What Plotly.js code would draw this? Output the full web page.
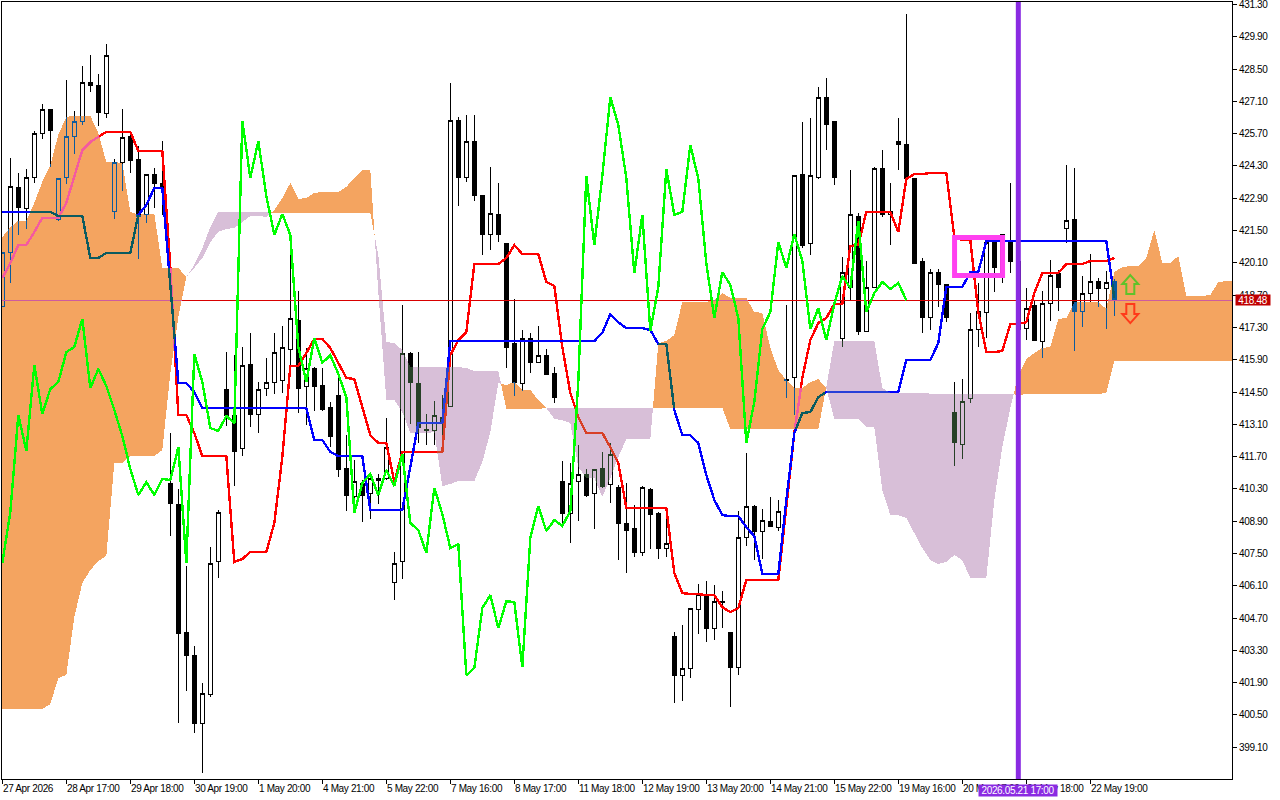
<!DOCTYPE html>
<html>
<head>
<meta charset="utf-8">
<script src="https://cdn.plot.ly/plotly-3.0.1.min.js"></script>
<style>
html,body{margin:0;padding:0;background:#fff;overflow:hidden}
#chart{width:1280px;height:800px}
.scatterlayer path,.boxlayer path{shape-rendering:crispEdges !important}
.annotation-text,.ytick text{letter-spacing:-0.35px}
</style>
</head>
<body>
<div id="chart"></div>
<script>
// Candles, index 0..139
const open = [
418.19,420.57,423.35,422.44,423.82,425.73,426.73,421.96,423.78,425.56,
426.21,427.90,427.81,426.56,422.31,424.43,425.56,424.56,422.18,423.95,
423.56,410.55,409.64,404.09,403.09,400.14,401.40,407.13,414.63,413.50,
412.03,415.71,413.54,414.67,414.93,415.02,416.36,417.62,414.72,415.54,
414.80,413.81,414.33,411.20,409.99,410.55,410.12,410.73,410.73,406.26,
407.17,416.19,414.89,412.89,412.85,413.41,413.85,426.26,423.78,425.34,
423.04,421.31,422.18,420.92,416.62,414.89,416.80,415.76,416.10,415.32,
410.60,409.25,410.60,410.94,410.12,411.20,410.47,410.38,408.82,408.56,
407.52,410.29,409.25,407.73,403.92,402.22,402.53,405.09,405.70,404.26,
405.43,404.09,402.57,408.17,409.55,408.43,408.90,408.64,415.06,415.15,
423.91,420.96,423.82,427.25,426.21,416.80,419.05,422.13,417.14,419.05,
424.17,422.18,425.38,425.25,423.74,420.14,417.75,419.70,419.14,413.59,
412.24,414.20,417.19,417.93,421.00,419.62,421.09,420.18,417.27,418.23,
416.71,418.32,419.62,421.57,422.00,417.97,418.79,419.27,418.97,419.27];
const high = [
420.57,424.65,424.00,424.17,425.82,426.99,426.73,423.74,428.03,426.69,
428.64,429.11,428.29,429.59,424.60,426.77,425.73,425.17,423.95,424.21,
425.38,412.72,410.29,406.95,403.48,401.88,407.78,409.38,416.23,416.10,
416.45,417.06,414.93,415.97,417.06,417.36,420.70,418.88,416.41,415.58,
415.54,414.07,415.15,412.63,411.55,410.68,410.90,410.94,413.37,407.56,
418.27,416.23,416.23,413.54,414.11,414.37,427.90,426.43,426.51,426.51,
423.04,424.26,423.56,420.92,418.53,417.19,417.06,417.36,416.36,415.58,
411.51,411.42,412.20,411.16,411.16,411.90,412.29,410.47,410.55,409.60,
410.42,410.34,409.29,408.99,404.09,404.39,405.13,406.17,406.30,406.13,
405.87,404.09,409.34,411.85,409.60,409.42,409.95,409.82,418.27,423.87,
426.21,426.38,427.73,428.12,426.21,420.35,424.13,422.26,420.18,424.26,
425.00,423.56,426.38,430.89,423.74,420.31,419.83,419.83,419.18,414.93,
415.06,417.93,419.23,421.00,421.09,421.35,423.56,420.87,419.01,418.49,
418.88,420.22,419.79,424.34,424.21,419.53,420.48,419.44,419.75,419.40];
const low = [
418.19,419.23,421.31,421.57,423.56,425.47,424.26,421.92,423.52,424.82,
426.08,427.51,426.04,426.38,422.00,423.22,424.00,420.27,421.83,422.48,
422.18,408.25,400.14,401.53,399.71,397.97,401.27,406.43,413.02,410.42,
411.72,412.98,412.72,414.33,414.41,414.46,415.15,413.59,413.07,413.67,
413.67,412.11,410.81,409.34,409.82,408.86,408.99,409.64,410.68,405.48,
406.39,413.11,412.29,412.20,412.20,412.63,413.85,422.57,423.61,422.78,
420.44,420.66,421.00,415.54,414.33,414.54,415.32,415.76,415.28,414.02,
408.73,407.95,408.90,409.95,408.56,410.34,409.68,407.21,406.65,407.34,
407.39,407.69,407.26,407.34,401.01,401.10,402.09,404.00,403.66,403.74,
404.26,400.84,402.22,407.82,407.21,407.26,408.64,408.47,414.24,413.50,
420.74,420.44,423.74,425.00,423.48,416.45,418.49,416.97,417.14,419.05,
422.09,420.87,424.13,423.74,420.05,417.06,417.19,418.19,417.53,411.29,
411.59,414.02,416.45,416.84,418.84,419.23,419.66,416.90,416.75,416.71,
415.97,417.58,418.01,420.96,416.28,417.32,418.40,418.19,417.23,417.80];
const close = [
420.57,423.39,422.48,423.82,425.69,426.77,425.82,423.74,425.56,426.25,
427.90,427.77,426.64,429.11,424.47,425.52,424.52,422.09,423.95,423.52,
423.35,409.68,404.05,403.09,400.14,401.44,407.08,409.29,413.50,411.94,
415.67,413.54,414.63,414.93,416.23,416.45,417.67,414.67,415.50,414.76,
413.72,412.59,411.16,410.03,410.60,410.03,410.73,410.68,412.11,407.08,
416.15,414.93,412.94,412.81,413.46,413.15,426.26,423.78,425.38,423.00,
421.31,422.22,421.31,416.45,414.93,416.84,415.76,416.10,415.28,414.28,
409.25,410.55,410.94,410.03,411.12,410.42,411.81,408.82,408.51,407.52,
410.34,409.21,407.73,407.91,402.22,402.53,405.13,405.70,404.26,405.43,
405.39,402.57,408.17,409.55,408.47,408.95,408.69,409.34,414.98,423.87,
420.87,423.87,427.29,426.08,423.78,419.66,422.18,417.14,419.05,424.17,
422.18,422.31,425.21,423.74,420.09,417.71,419.70,419.14,417.71,412.29,
414.07,417.23,417.97,421.00,419.88,421.35,420.18,417.23,418.14,416.75,
418.32,419.53,419.01,421.92,417.97,418.79,419.27,418.97,419.23,418.48];

// Ichimoku lines
const tenkan = [
419.44,420.09,420.87,420.87,421.44,422.05,422.05,422.05,422.70,423.82,
424.99,425.34,425.56,425.78,425.78,425.78,425.78,424.95,424.95,424.95,
424.95,419.92,413.50,413.50,412.72,411.72,411.72,411.72,411.72,407.13,
407.26,407.56,407.56,407.56,408.82,411.68,415.63,415.63,416.19,416.80,
416.80,416.41,415.76,415.11,415.06,413.85,412.63,412.29,412.29,410.60,
411.90,411.90,411.90,411.90,411.90,411.90,416.10,416.75,417.10,420.05,
420.05,420.05,420.05,420.31,420.87,420.48,420.48,420.48,419.27,419.10,
416.45,414.46,413.41,412.72,412.72,412.72,412.11,411.42,409.47,409.47,
409.47,409.47,409.47,409.47,406.65,405.78,405.74,405.74,405.69,405.69,
405.17,404.96,405.13,406.35,406.35,406.35,406.35,406.35,409.51,412.72,
415.11,416.75,417.49,417.71,418.32,418.32,420.83,420.87,422.31,422.31,
422.31,422.31,421.44,423.74,423.95,423.95,424.00,424.00,424.00,421.22,
421.09,421.09,417.97,416.23,416.23,416.28,417.45,417.45,417.53,418.79,
419.66,419.66,419.66,420.05,420.05,420.05,420.18,420.18,420.18,420.31];
const kijun = [
422.31,422.31,422.31,422.31,422.31,422.31,422.31,422.13,422.13,422.13,
422.13,420.31,420.31,420.53,420.53,420.53,420.53,422.18,422.61,423.35,
423.35,419.14,414.89,414.89,414.50,413.81,413.81,413.81,413.81,413.81,
413.81,413.81,413.81,413.81,413.81,413.81,413.81,413.81,413.81,412.42,
412.42,411.90,411.72,411.72,411.72,411.72,409.38,409.38,409.38,409.38,
409.38,411.25,413.15,413.15,413.15,413.15,416.71,416.71,416.71,416.71,
416.71,416.71,416.71,416.71,416.71,416.71,416.71,416.71,416.71,416.71,
416.71,416.71,416.71,416.71,416.71,417.06,417.88,417.53,417.27,417.27,
417.27,417.19,416.58,416.58,413.72,412.63,412.63,412.29,410.90,409.82,
409.16,409.12,409.12,408.64,408.25,406.61,406.61,406.61,409.82,412.72,
413.59,413.63,414.28,414.50,414.50,414.50,414.50,414.50,414.50,414.50,
414.50,414.50,414.50,415.89,415.89,415.89,415.89,416.62,419.05,419.05,
419.05,419.70,419.70,421.05,421.05,421.05,421.05,421.05,421.05,421.05,
421.05,421.05,421.05,421.05,421.05,421.05,421.05,421.05,421.05,418.58];
const chikou = [
407.08,409.29,413.50,411.94,415.67,413.54,414.63,414.93,416.23,416.45,
417.67,414.67,415.50,414.76,413.72,412.59,411.16,410.03,410.60,410.03,
410.73,410.68,412.11,407.08,416.15,414.93,412.94,412.81,413.46,413.15,
426.26,423.78,425.38,423.00,421.31,422.22,421.31,416.45,414.93,416.84,
415.76,416.10,415.28,414.28,409.25,410.55,410.94,410.03,411.12,410.42,
411.81,408.82,408.51,407.52,410.34,409.21,407.73,407.91,402.22,402.53,
405.13,405.70,404.26,405.43,405.39,402.57,408.17,409.55,408.47,408.95,
408.69,409.34,414.98,423.87,420.87,423.87,427.29,426.08,423.78,419.66,
422.18,417.14,419.05,424.17,422.18,422.31,425.21,423.74,420.09,417.71,
419.70,419.14,417.71,412.29,414.07,417.23,417.97,421.00,419.88,421.35,
420.18,417.23,418.14,416.75,418.32,419.53,419.01,421.92,417.97,418.79,
419.27,418.97,419.23,418.48];
const spanA = [
421.22,421.65,421.92,421.92,422.70,423.61,424.34,425.65,426.43,426.47,
426.47,426.47,425.73,424.47,424.47,424.43,422.31,422.18,422.22,422.22,
419.88,419.88,419.88,419.49,
419.88,420.31,421.00,421.44,421.57,421.61,421.87,422.13,422.13,422.09,
422.39,422.91,423.56,422.87,422.91,423.13,423.17,423.17,423.17,423.39,423.78,424.13,424.13,
418.84,414.15,414.15,413.63,412.72,412.72,412.72,412.76,410.42,410.51,410.64,410.64,410.64,411.46,412.76,414.89,
414.80,414.93,414.59,414.59,414.15,413.81,
413.33,413.28,413.15,411.25,410.77,410.77,409.95,410.77,411.68,412.46,412.46,412.46,412.46,
416.62,416.71,416.97,418.40,418.40,418.40,418.40,418.49,418.79,418.58,418.58,418.58,417.97,417.93,416.41,415.45,415.02,414.67,414.67,414.93,415.06,
414.67,413.33,413.33,413.33,413.33,412.98,412.98,410.25,409.16,409.16,409.03,408.38,407.73,407.21,407.04,407.13,407.43,407.21,406.43,406.43,406.43,409.82,412.11,413.81,
415.24,415.93,416.19,416.41,416.45,417.67,417.71,418.40,418.40,418.40,418.40,418.10,419.70,419.92,419.96,419.96,420.31,421.53,420.09,420.09,420.40,418.66,418.66,418.66,418.71,419.27,419.31,419.31];
const spanB = [
400.75,400.75,400.75,400.75,400.75,400.75,400.97,402.10,402.23,404.74,406.22,406.78,407.17,407.39,411.42,411.42,411.72,411.72,411.72,411.72,411.98,415.32,417.75,419.49,
420.01,420.74,421.65,422.31,422.31,422.31,422.31,422.31,422.31,422.31,
422.26,422.26,422.26,422.26,422.26,422.26,422.26,422.26,422.26,422.26,422.26,422.26,422.26,
420.44,416.67,416.62,416.32,415.58,415.58,415.58,415.58,415.58,415.58,415.58,415.54,415.41,415.41,415.41,415.41,
413.76,413.76,413.76,413.76,413.76,413.81,
413.81,413.81,413.81,413.81,413.81,413.81,413.81,413.81,413.81,413.81,413.81,
413.81,413.81,413.81,413.81,413.81,413.81,413.81,413.81,413.81,413.81,413.81,
412.89,412.89,412.89,412.89,412.89,412.89,412.89,412.89,412.89,412.89,412.89,412.89,
414.72,416.71,416.71,416.71,416.71,416.71,416.71,414.67,414.46,414.46,414.46,414.46,414.46,
414.43,414.43,414.43,414.43,414.43,414.43,414.43,414.43,414.43,414.43,414.43,
414.37,414.41,414.41,414.41,414.41,414.41,414.41,414.41,414.41,414.41,414.41,414.46,
415.84,415.84,415.84,415.84,415.84,415.84,415.84,415.84,415.84,415.84,415.84,415.84,415.84,415.84,415.84,415.84];

// Axes text
const priceTicks = [431.30,429.90,428.50,427.10,425.70,424.30,422.90,421.50,420.10,418.70,417.30,415.90,414.50,413.10,411.70,410.30,408.90,407.50,406.10,404.70,403.30,401.90,400.50,399.10];
const timeLabels = ['27 Apr 2026','28 Apr 17:00','29 Apr 18:00','30 Apr 19:00','1 May 20:00','4 May 21:00','5 May 22:00','7 May 16:00','8 May 17:00','11 May 18:00','12 May 19:00','13 May 20:00','14 May 21:00','15 May 22:00','19 May 16:00','20 May 17:00','21 May 18:00','22 May 19:00'];
const timeStep = 8;
const lastPrice = 418.48;
const markerBar = 127, markerLabel = '2026.05.21 17:00';

const FONT = '"Liberation Sans", Arial, sans-serif';
const FS = 10;
const idx = n => Array.from({length:n},(_,i)=>i);

function cloud(A,B){
  const out={1:{x:[],y:[]},'-1':{x:[],y:[]}};
  let pts=[],sg=0;
  const flush=s=>{
    if(s===0||pts.length<2){return;}
    const o=out[s];
    pts.forEach(p=>{o.x.push(p[0]);o.y.push(p[1]);});
    pts.slice().reverse().forEach(p=>{o.x.push(p[0]);o.y.push(p[2]);});
    o.x.push(null);o.y.push(null);
  };
  for(let i=0;i<A.length;i++){
    const d=A[i]-B[i],s=Math.sign(d);
    if(sg!==0&&s!==0&&s!==sg){
      const d0=A[i-1]-B[i-1],t=d0/(d0-d),xc=i-1+t,yc=A[i-1]+t*(A[i]-A[i-1]);
      pts.push([xc,yc,yc]);flush(sg);pts=[[xc,yc,yc],[i,A[i],B[i]]];sg=s;
    }else if(s===0){
      pts.push([i,A[i],B[i]]);flush(sg);pts=[[i,A[i],B[i]]];sg=0;
    }else{pts.push([i,A[i],B[i]]);sg=s;}
  }
  flush(sg);
  return out;
}
const kumo=cloud(spanA,spanB);

const xRange=[-0.04,153.71], yRange=[397.72,431.41];
const traces=[
 {type:'bar',x:[77],y:[40],base:[395],width:[200],marker:{color:'#ffffff',line:{width:0}},hoverinfo:'skip',showlegend:false},
 {type:'candlestick',x:idx(open.length),open,high,low,close,whiskerwidth:0,hoverinfo:'skip',showlegend:false,
  increasing:{line:{color:'#000',width:1},fillcolor:'#fff'},decreasing:{line:{color:'#000',width:1},fillcolor:'#000'}},
 {type:'scatter',mode:'lines',x:[-1,155],y:[lastPrice,lastPrice],line:{color:'#d80000',width:1},hoverinfo:'skip',showlegend:false},
 {type:'scatter',mode:'lines',x:idx(tenkan.length),y:tenkan,line:{color:'#ff0000',width:2.4},hoverinfo:'skip',showlegend:false},
 {type:'scatter',mode:'lines',x:idx(kijun.length),y:kijun,line:{color:'#0000ff',width:2.4},hoverinfo:'skip',showlegend:false},
 {type:'scatter',mode:'none',x:kumo[1].x,y:kumo[1].y,fill:'toself',fillcolor:'#0b5b9f',hoverinfo:'skip',showlegend:false},
 {type:'scatter',mode:'none',x:kumo[-1].x,y:kumo[-1].y,fill:'toself',fillcolor:'#274027',hoverinfo:'skip',showlegend:false},
 {type:'scatter',mode:'lines',x:idx(chikou.length),y:chikou,line:{color:'#00ff00',width:2.4},hoverinfo:'skip',showlegend:false}
];

const arrowBar=141;
const toPath=(pts)=>'M'+pts.map(p=>(arrowBar+p[0]/8)+','+p[1]).join('L')+'Z';
const arrowUp=[[0,419.57],[8,419.18],[4,419.18],[4,418.75],[-4,418.75],[-4,419.18],[-8,419.18]];
const arrowDn=[[-4,418.32],[4,418.32],[4,417.88],[8,417.88],[0,417.49],[-8,417.88],[-4,417.88]];

const shapes=[
 {type:'rect',xref:'x',yref:'y',x0:119.03,x1:125.03,y0:419.55,y1:421.20,line:{color:'#ff40f0',width:5}},
 {type:'line',xref:'x',yref:'paper',x0:markerBar,x1:markerBar,y0:0,y1:1,line:{color:'#8a2be2',width:5}},
 {type:'path',xref:'x',yref:'y',path:toPath(arrowUp),line:{color:'#5fc22a',width:2}},
 {type:'path',xref:'x',yref:'y',path:toPath(arrowDn),line:{color:'#ff3a1a',width:2}}
];

const annotations=timeLabels.map((t,k)=>({xref:'x',yref:'paper',x:k*timeStep,y:0,xanchor:'left',yanchor:'top',yshift:-3,xshift:0,text:t,showarrow:false,borderpad:0,font:{family:FONT,size:FS,color:'#000'}}));
annotations.push({xref:'x',yref:'paper',x:markerBar,y:0,xanchor:'center',yanchor:'top',yshift:-5,text:markerLabel,showarrow:false,borderpad:0,width:78,height:11,bgcolor:'#8a2be2',font:{family:FONT,size:FS,color:'#fff'}});
annotations.push({xref:'paper',yref:'y',x:1.0024,y:lastPrice,xanchor:'left',yanchor:'middle',text:lastPrice.toFixed(2),showarrow:false,borderpad:0,width:34,height:10,bgcolor:'#c00000',font:{family:FONT,size:FS,color:'#fff'}});

const layout={
 width:1280,height:800,margin:{l:2,r:48,t:2,b:21,pad:0},
 paper_bgcolor:'#fff',plot_bgcolor:'#fff',showlegend:false,boxgap:0.5,boxgroupgap:0,dragmode:false,
 xaxis:{type:'linear',range:xRange,showgrid:false,zeroline:false,showline:true,mirror:true,linecolor:'#000',linewidth:1,
   tickmode:'array',tickvals:timeLabels.map((t,k)=>k*timeStep),ticktext:timeLabels.map(()=>''),ticks:'outside',ticklen:4,tickcolor:'#000',tickwidth:1,rangeslider:{visible:false}},
 yaxis:{type:'linear',range:yRange,side:'right',showgrid:false,zeroline:false,showline:true,mirror:true,linecolor:'#000',linewidth:1,
   tickmode:'array',tickvals:priceTicks,ticktext:priceTicks.map(v=>v.toFixed(2)),ticks:'outside',ticklen:4,tickcolor:'#000',tickwidth:1,ticklabeloverflow:'allow',
   tickfont:{family:FONT,size:FS,color:'#000'}},
 shapes,annotations
};

Plotly.newPlot('chart',traces,layout,{staticPlot:true,displayModeBar:false}).then(gd=>{
  const groups=gd.querySelectorAll('.scatterlayer .trace');
  groups.forEach(g=>g.querySelectorAll('.js-fill').forEach(p=>{p.style.mixBlendMode='difference';}));
});
</script>
</body>
</html>
